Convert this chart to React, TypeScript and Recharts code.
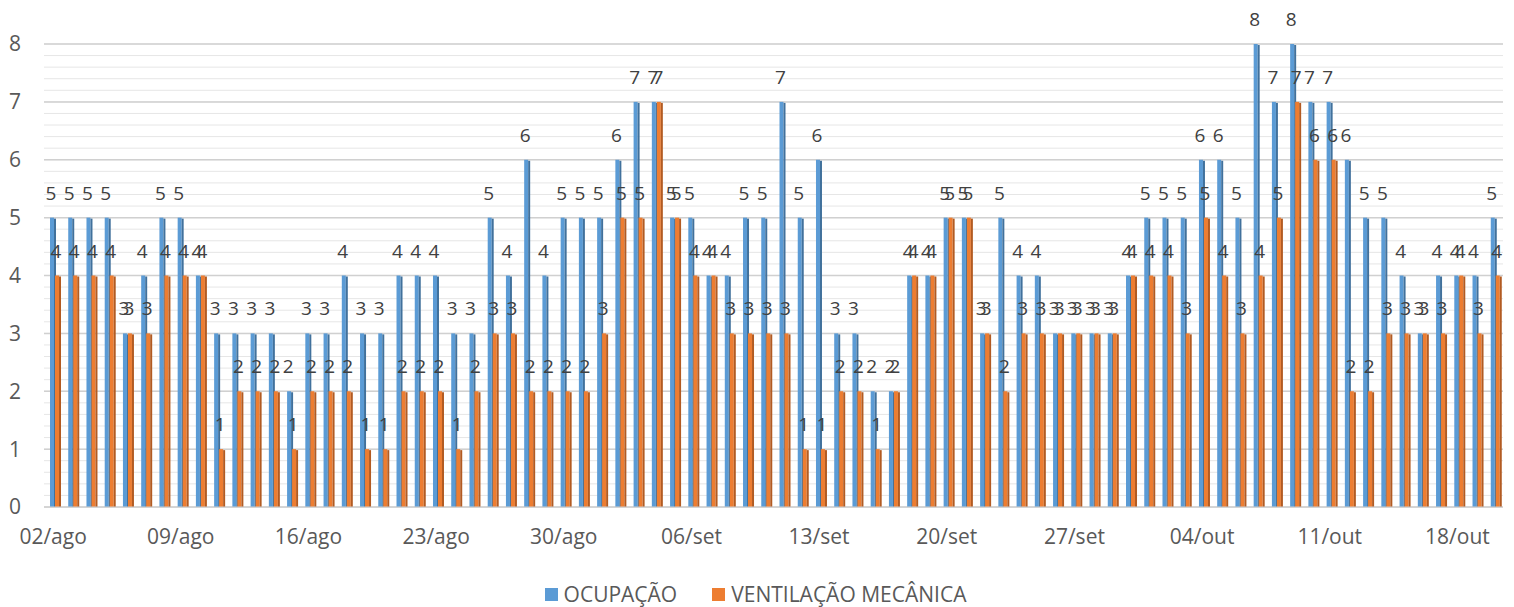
import React from 'react';
import { BarChart, Bar, XAxis, YAxis, CartesianGrid, Legend, LabelList } from 'recharts';

const dias = [
  '02/ago', '03/ago', '04/ago', '05/ago', '06/ago', '07/ago', '08/ago', '09/ago', '10/ago', '11/ago',
  '12/ago', '13/ago', '14/ago', '15/ago', '16/ago', '17/ago', '18/ago', '19/ago', '20/ago', '21/ago',
  '22/ago', '23/ago', '24/ago', '25/ago', '26/ago', '27/ago', '28/ago', '29/ago', '30/ago', '31/ago',
  '01/set', '02/set', '03/set', '04/set', '05/set', '06/set', '07/set', '08/set', '09/set', '10/set',
  '11/set', '12/set', '13/set', '14/set', '15/set', '16/set', '17/set', '18/set', '19/set', '20/set',
  '21/set', '22/set', '23/set', '24/set', '25/set', '26/set', '27/set', '28/set', '29/set', '30/set',
  '01/out', '02/out', '03/out', '04/out', '05/out', '06/out', '07/out', '08/out', '09/out', '10/out',
  '11/out', '12/out', '13/out', '14/out', '15/out', '16/out', '17/out', '18/out', '19/out', '20/out',
];

const ocupacao = [
  5, 5, 5, 5, 3, 4, 5, 5, 4, 3,
  3, 3, 3, 2, 3, 3, 4, 3, 3, 4,
  4, 4, 3, 3, 5, 4, 6, 4, 5, 5,
  5, 6, 7, 7, 5, 5, 4, 4, 5, 5,
  7, 5, 6, 3, 3, 2, 2, 4, 4, 5,
  5, 3, 5, 4, 4, 3, 3, 3, 3, 4,
  5, 5, 5, 6, 6, 5, 8, 7, 8, 7,
  7, 6, 5, 5, 4, 3, 4, 4, 4, 5,
];

const ventilacao = [
  4, 4, 4, 4, 3, 3, 4, 4, 4, 1,
  2, 2, 2, 1, 2, 2, 2, 1, 1, 2,
  2, 2, 1, 2, 3, 3, 2, 2, 2, 2,
  3, 5, 5, 7, 5, 4, 4, 3, 3, 3,
  3, 1, 1, 2, 2, 1, 2, 4, 4, 5,
  5, 3, 2, 3, 3, 3, 3, 3, 3, 4,
  4, 4, 3, 5, 4, 3, 4, 5, 7, 6,
  6, 2, 2, 3, 3, 3, 3, 4, 3, 4,
];

const yTicks = [0, 1, 2, 3, 4, 5, 6, 7, 8];
// linhas secundárias da grade a cada 0,2
const minorTicks = Array.from({ length: 41 }, (_, i) => i / 5);

const data = dias.map((dia, i) => ({
  dia,
  ocupacao: ocupacao[i],
  ventilacao: ventilacao[i],
}));

const FONT = '"Open Sans", sans-serif';

const Barra3D = (props: any) => {
  const { x, y, width, height, fill, escuro } = props;
  if (!height || height <= 0) return null;
  const lado = 2;
  const x0 = x + 2;
  return (
    <g>
      <rect x={x0} y={y} width={width - lado} height={height} fill={fill} />
      <rect x={x0 + width - lado} y={y + 1} width={lado} height={height - 1} fill={escuro} />
    </g>
  );
};

const Legenda = (props: any) => {
  const { payload } = props;
  return (
    <div
      style={{
        display: 'flex',
        justifyContent: 'center',
        gap: 35,
        height: 26,
        alignItems: 'center',
        fontFamily: FONT,
        fontSize: 21,
        color: '#595959',
      }}
    >
      {payload.map((item: any) => (
        <span key={item.value} style={{ display: 'flex', alignItems: 'center' }}>
          <span style={{ width: 13, height: 13, background: item.color, marginRight: 6, display: 'inline-block' }} />
          {item.value}
        </span>
      ))}
    </div>
  );
};

const gradeSecundaria = ({ yAxis, offset }: any) =>
  minorTicks.map((t) =>
    yAxis && typeof yAxis.scale === 'function'
      ? yAxis.scale(t)
      : offset.top + offset.height * (1 - t / 8),
  );

export default function App() {
  return (
    <div style={{ marginTop: -8 }}>
      <BarChart
        width={1498}
        height={607}
        data={data}
        margin={{ top: 44, right: 3, left: 0, bottom: 0 }}
        barSize={6}
        barGap={-1}
      >
        <CartesianGrid
          vertical={false}
          stroke="#E6E6E6"
          horizontalCoordinatesGenerator={gradeSecundaria}
        />
        <CartesianGrid vertical={false} stroke="#D0D0D0" strokeWidth={1.5} />
        <XAxis
          dataKey="dia"
          interval={6}
          tickLine={false}
          axisLine={{ stroke: '#D0D0D0' }}
          tickSize={0}
          tickMargin={22}
          height={74}
          tick={{ fill: '#595959', fontSize: 21, fontFamily: FONT }}
        />
        <YAxis
          domain={[0, 8]}
          ticks={yTicks}
          width={36}
          axisLine={false}
          tickLine={false}
          tickSize={0}
          tickMargin={23}
          tick={{ fill: '#595959', fontSize: 21, fontFamily: FONT }}
        />
        <Legend verticalAlign="bottom" content={<Legenda />} />
        <Bar
          dataKey="ocupacao"
          name="OCUPAÇÃO"
          fill="#5B9BD5"
          isAnimationActive={false}
          shape={(p: any) => <Barra3D {...p} escuro="#41719C" />}
        >
          <LabelList dataKey="ocupacao" position="top" offset={18} fill="#404040" fontSize={19} fontFamily={FONT} />
        </Bar>
        <Bar
          dataKey="ventilacao"
          name="VENTILAÇÃO MECÂNICA"
          fill="#ED7D31"
          isAnimationActive={false}
          shape={(p: any) => <Barra3D {...p} escuro="#B25B22" />}
        >
          <LabelList dataKey="ventilacao" position="top" offset={18} fill="#404040" fontSize={19} fontFamily={FONT} />
        </Bar>
      </BarChart>
    </div>
  );
}
